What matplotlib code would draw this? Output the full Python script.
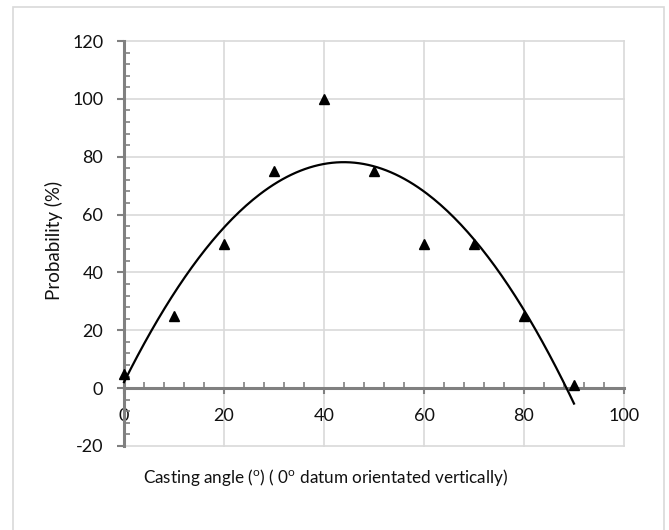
import numpy as np
import matplotlib
matplotlib.use("Agg")
import matplotlib.pyplot as plt
from matplotlib.patches import Rectangle
from matplotlib.ticker import MultipleLocator

plt.rcParams['font.family'] = ['Lato', 'DejaVu Sans']
plt.rcParams['axes.unicode_minus'] = False
plt.rcParams['mathtext.fontset'] = 'custom'
plt.rcParams['mathtext.rm'] = 'Lato'

angles = [0, 10, 20, 30, 40, 50, 60, 70, 80, 90]
probability = [5, 25, 50, 75, 100, 75, 50, 50, 25, 1]
x_ticks = [0, 20, 40, 60, 80, 100]
y_ticks = [-20, 0, 20, 40, 60, 80, 100, 120]

fig = plt.figure(figsize=(6.69, 5.30), dpi=100)
ax = fig.add_axes([124/669, 1-446/530, 500/669, 405/530])

grid_c = '#d9d9d9'
axis_c = '#808080'
txt_c = '#111111'

ax.set_xlim(0, 100)
ax.set_ylim(-20, 120)
for v in x_ticks:
    ax.axvline(v, color=grid_c, lw=1.2, zorder=0, clip_on=False)
for v in y_ticks:
    ax.axhline(v, color=grid_c, lw=1.2, zorder=0, clip_on=False)

for s in ['top', 'right']:
    ax.spines[s].set_visible(False)
ax.spines['bottom'].set_position(('data', 0))
for s in ['left', 'bottom']:
    ax.spines[s].set_color(axis_c)
    ax.spines[s].set_linewidth(2.2)
    ax.spines[s].set_zorder(2)

ax.set_xticks(x_ticks)
ax.set_yticks(y_ticks)
ax.xaxis.set_minor_locator(MultipleLocator(4))
ax.yaxis.set_minor_locator(MultipleLocator(4))
ax.tick_params(axis='x', which='major', direction='out', length=4, width=1.5, color=axis_c,
               labelsize=13, labelcolor=txt_c, pad=10)
ax.tick_params(axis='x', which='minor', direction='in', length=4, width=1.2, color=axis_c)
ax.tick_params(axis='y', which='major', direction='out', length=5, width=1.5, color=axis_c,
               labelsize=13, labelcolor=txt_c, pad=10)
ax.tick_params(axis='y', which='minor', direction='in', length=4, width=1.2, color=axis_c)

# quadratic trendline
coef = np.polyfit(angles, probability, 2)
xs = np.linspace(min(angles), max(angles), 200)
ax.plot(xs, np.polyval(coef, xs), color='black', lw=1.6, zorder=3, clip_on=False)

ax.plot(angles, probability, linestyle='none', marker='^', markersize=7.5,
        color='black', zorder=4, clip_on=False)

fig.text(54/669, 1-240/530, 'Probability (%)', rotation=90, ha='center', va='center',
         fontsize=13.5, color=txt_c)
fig.text(326/669, 1-478/530,
         r'Casting angle ($^{\mathrm{o}}$) ( 0$^{\mathrm{o}}$ datum orientated vertically)',
         ha='center', va='center', fontsize=12.3, color=txt_c)

fig.patches.append(Rectangle((13/669, -0.05), (664-13)/669, (1-7/530)+0.05,
                             transform=fig.transFigure, fill=False,
                             edgecolor=grid_c, lw=1.2))

fig.savefig('out.png', dpi=100)
